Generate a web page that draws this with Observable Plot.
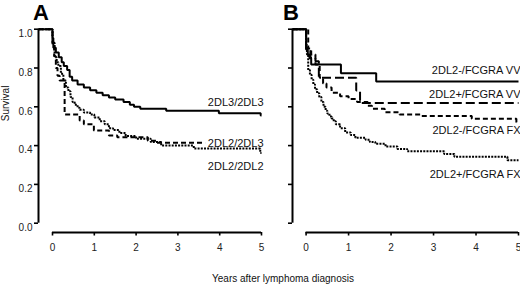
<!DOCTYPE html>
<html><head><meta charset="utf-8">
<script src="https://cdn.jsdelivr.net/npm/d3@7"></script>
<script src="https://cdn.jsdelivr.net/npm/@observablehq/plot@0.6"></script>
<style>
body{margin:0;background:#fff;font-family:"Liberation Sans",Arial,sans-serif;}
#wrap{position:relative;width:520px;height:285px;overflow:hidden;background:#fff}
#a,#b{position:absolute;top:0}
#a{left:0px}
#b{left:260px}
.letter{position:absolute;top:2px;font-weight:bold;font-size:22px;line-height:22px;color:#000}
#xt{position:absolute;left:0;width:566px;top:273px;text-align:center;font-size:10px;line-height:12px;color:#111}
</style></head><body>
<div id="wrap">
<div id="a"></div><div id="b"></div>
<div class="letter" style="left:33px">A</div>
<div class="letter" style="left:283px">B</div>
<div id="xt">Years after lymphoma diagnosis</div>
</div>
<script>
// ---------- data ----------
const xTicks = [0, 1, 2, 3, 4, 5];
const yTicks = [0, 0.2, 0.4, 0.6, 0.8, 1.0];

// Panel A
const namesA = ["2DL3/2DL3", "2DL2/2DL3", "2DL2/2DL2"];
const a1_t = [-0.335, 0, 0.02, 0.08, 0.15, 0.22, 0.27, 0.35, 0.41, 0.47, 0.6, 0.75, 0.9, 1.05, 1.2, 1.35, 1.5, 1.7, 1.85, 1.95, 2.1, 2.72, 3.98, 4.98, 5];
const a1_s = [1, 0.955, 0.905, 0.88, 0.855, 0.83, 0.81, 0.79, 0.755, 0.735, 0.715, 0.7, 0.685, 0.672, 0.66, 0.648, 0.638, 0.625, 0.61, 0.6, 0.59, 0.58, 0.567, 0.555, 0.555];
const a2_t = [-0.335, 0, 0.04, 0.08, 0.12, 0.17, 0.29, 0.65, 0.75, 0.99, 1.35, 1.55, 2.28, 2.5, 3.65];
const a2_s = [1, 0.92, 0.86, 0.8, 0.76, 0.735, 0.56, 0.53, 0.51, 0.478, 0.452, 0.443, 0.425, 0.415, 0.415];
const a3_t = [-0.335, 0, 0.05, 0.1, 0.14, 0.2, 0.26, 0.32, 0.38, 0.43, 0.48, 0.53, 0.6, 0.65, 0.75, 0.9, 1.0, 1.13, 1.25, 1.35, 1.45, 1.6, 1.75, 2.0, 2.35, 2.6, 3.38, 4.97, 5];
const a3_s = [1, 0.93, 0.855, 0.83, 0.81, 0.77, 0.735, 0.7, 0.68, 0.65, 0.625, 0.61, 0.595, 0.585, 0.57, 0.56, 0.545, 0.526, 0.51, 0.49, 0.48, 0.465, 0.45, 0.435, 0.418, 0.4, 0.385, 0.362, 0.362];

// Panel B
const namesB = ["2DL2-/FCGRA VV", "2DL2+/FCGRA VV", "2DL2-/FCGRA FX", "2DL2+/FCGRA FX"];
const b1_t = [-0.32, 0, 0.04, 0.08, 0.12, 0.82, 1.65, 5];
const b1_s = [1, 0.895, 0.87, 0.85, 0.818, 0.773, 0.73, 0.73];
const b2_t = [-0.32, 0, 0.1, 0.22, 0.3, 1.18, 1.27, 5];
const b2_s = [1, 0.9, 0.853, 0.835, 0.75, 0.684, 0.62, 0.62];
const b3_t = [-0.32, 0.05, 0.12, 0.22, 0.32, 0.4, 0.48, 0.6, 0.8, 1.0, 1.2, 1.45, 1.55, 1.85, 2.2, 2.7, 3.9, 4.95, 5];
const b3_s = [1, 0.9, 0.87, 0.818, 0.75, 0.72, 0.7, 0.672, 0.655, 0.64, 0.625, 0.605, 0.59, 0.572, 0.56, 0.553, 0.538, 0.52, 0.52];
const b4_t = [-0.32, 0, 0.02, 0.05, 0.09, 0.13, 0.17, 0.21, 0.26, 0.31, 0.36, 0.41, 0.46, 0.5, 0.55, 0.6, 0.65, 0.7, 0.8, 0.92, 1.05, 1.16, 1.4, 1.5, 1.63, 1.87, 2.15, 2.38, 3.25, 3.49, 4.74, 5];
const b4_s = [1, 0.92, 0.87, 0.79, 0.765, 0.74, 0.715, 0.69, 0.67, 0.65, 0.625, 0.6, 0.58, 0.565, 0.55, 0.54, 0.525, 0.51, 0.49, 0.468, 0.455, 0.44, 0.43, 0.418, 0.409, 0.395, 0.383, 0.371, 0.357, 0.342, 0.325, 0.325];

// ---------- layout / styles ----------
const labelYA = [0.624, 0.41, 0.292];
const labelYB = [0.787, 0.663, 0.478, 0.251];
const dashA = [null, "5,3", "2,1.2"];
const dashB = [null, "9,4", "5,3", "2,1.2"];
const xAxisPos = -0.048;

function series(ts, ss) { return ts.map((t, i) => ({t, s: ss[i]})); }

function panel({x0, width, marginLeft, marginRight, lines, names, labelY, dashes, showYLabels}) {
  const pxPerYear = (width - marginLeft - marginRight) / (5 - x0);
  const yTickLen = 4 / pxPerYear;
  const marks = [];
  // y axis
  marks.push(Plot.ruleX([x0], {y1: 0, y2: 1, strokeWidth: 2, stroke: "#000"}));
  marks.push(Plot.ruleY(yTicks, {y: d => d, x1: x0, x2: x0 - yTickLen, strokeWidth: 1.6, stroke: "#000"}));
  if (showYLabels) {
    marks.push(Plot.text(yTicks, {x: x0, y: d => d, text: d => d3.format(".1f")(d), textAnchor: "end", dx: -6, dy: 4.5, fontSize: 10, fill: "#222"}));
    marks.push(Plot.text(["Survival"], {frameAnchor: "left", rotate: -90, dx: -33, dy: -5, fontSize: 10, fill: "#111"}));
  }
  // x axis
  marks.push(Plot.ruleY([xAxisPos], {x1: 0, x2: 5, strokeWidth: 2, stroke: "#000"}));
  marks.push(Plot.ruleX(xTicks, {x: d => d, y1: xAxisPos, y2: xAxisPos - 0.018, strokeWidth: 1.6, stroke: "#000"}));
  marks.push(Plot.text(xTicks, {x: d => d, y: xAxisPos, text: d => String(d), dy: 15, fontSize: 10, fill: "#222"}));
  // curves
  lines.forEach((data, i) => {
    marks.push(Plot.line(data, {x: "t", y: "s", curve: "step-after", stroke: "#000", strokeWidth: 2,
      strokeLinecap: "butt", strokeLinejoin: "miter", strokeDasharray: dashes[i] || undefined}));
  });
  marks.push(Plot.text(names, {x: () => 5, y: (d, i) => labelY[i], text: d => d, textAnchor: "end", dx: 2, fontSize: 11, fill: "#111"}));
  return Plot.plot({
    width, height: 285,
    marginLeft, marginRight, marginTop: 28.7, marginBottom: 62.3,
    x: {domain: [x0, 5], axis: null},
    y: {domain: [0, 1], axis: null},
    style: {fontFamily: "Liberation Sans, Arial, sans-serif", background: "transparent", overflow: "visible"},
    marks
  });
}

document.getElementById("a").append(panel({
  x0: -0.335, width: 265, marginLeft: 38, marginRight: 4,
  lines: [series(a1_t, a1_s), series(a2_t, a2_s), series(a3_t, a3_s)],
  names: namesA, labelY: labelYA, dashes: dashA, showYLabels: true
}));
document.getElementById("b").append(panel({
  x0: -0.32, width: 260, marginLeft: 32, marginRight: 2,
  lines: [series(b1_t, b1_s), series(b2_t, b2_s), series(b3_t, b3_s), series(b4_t, b4_s)],
  names: namesB, labelY: labelYB, dashes: dashB, showYLabels: false
}));
</script>
</body></html>
